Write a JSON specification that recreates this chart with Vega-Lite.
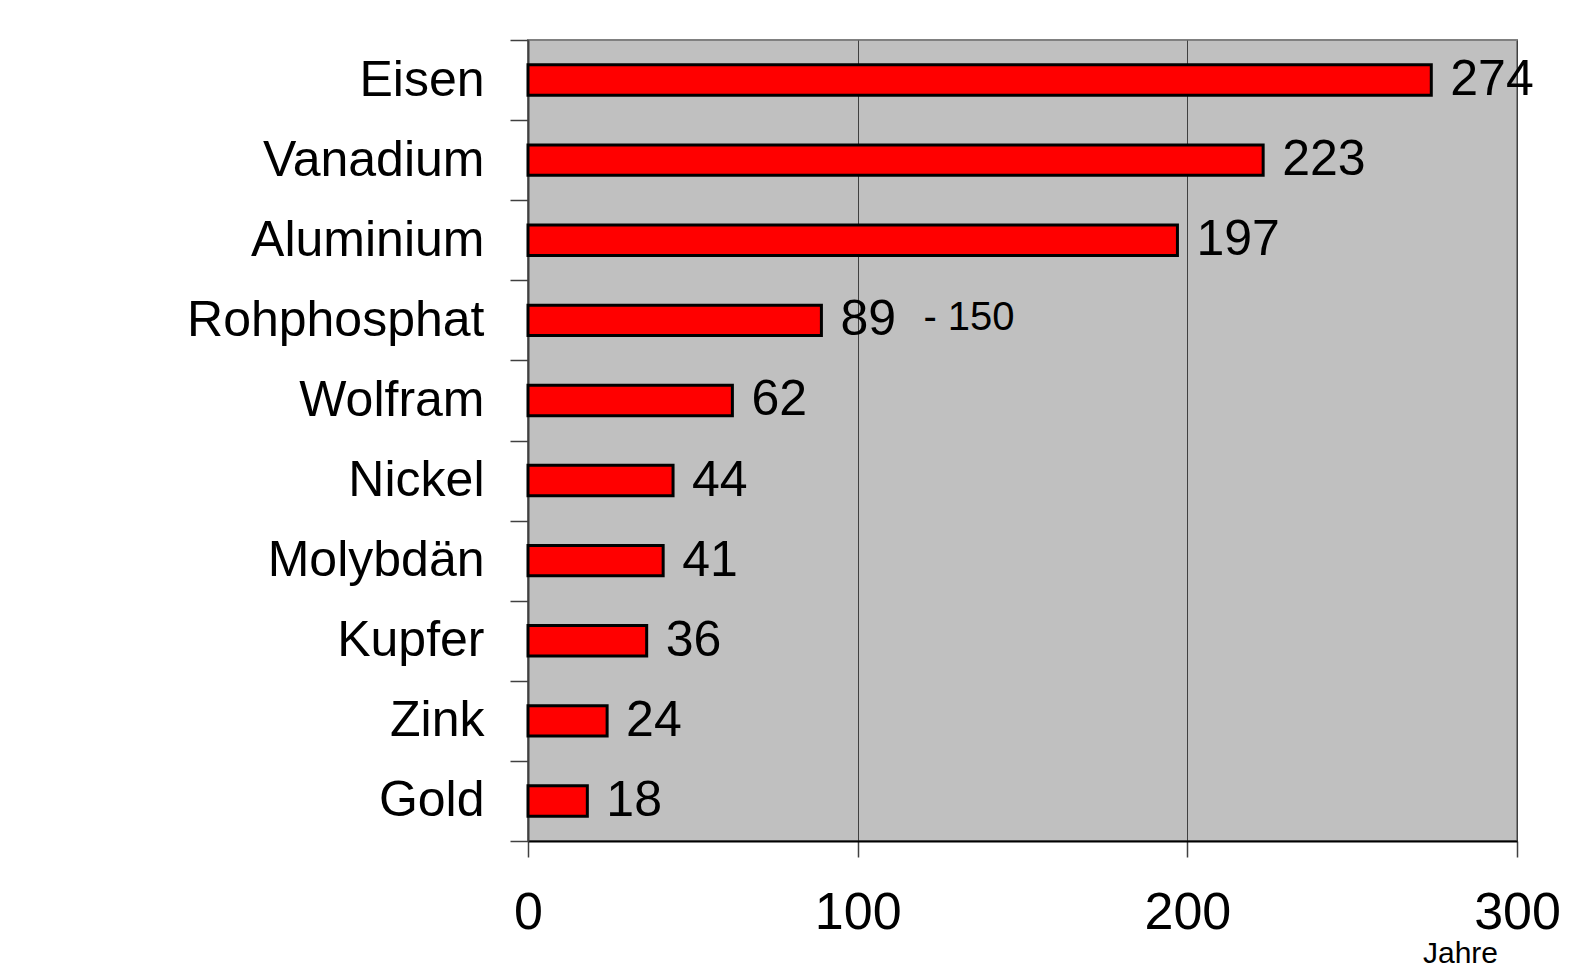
{
  "$schema": "https://vega.github.io/schema/vega-lite/v6.json",
  "autosize": {"type": "none"},
  "padding": {"left": 528, "top": 40, "right": 68, "bottom": 132},
  "width": 989,
  "height": 801,
  "background": "#ffffff",
  "config": {
    "font": "Liberation Sans",
    "view": {"fill": "#c0c0c0", "stroke": "#808080", "strokeWidth": 2}
  },
  "data": {
    "values": [
      {"rohstoff": "Eisen", "jahre": 274, "label": "274", "extra": ""},
      {"rohstoff": "Vanadium", "jahre": 223, "label": "223", "extra": ""},
      {"rohstoff": "Aluminium", "jahre": 197, "label": "197", "extra": ""},
      {"rohstoff": "Rohphosphat", "jahre": 89, "label": "89", "extra": "- 150"},
      {"rohstoff": "Wolfram", "jahre": 62, "label": "62", "extra": ""},
      {"rohstoff": "Nickel", "jahre": 44, "label": "44", "extra": ""},
      {"rohstoff": "Molybdän", "jahre": 41, "label": "41", "extra": ""},
      {"rohstoff": "Kupfer", "jahre": 36, "label": "36", "extra": ""},
      {"rohstoff": "Zink", "jahre": 24, "label": "24", "extra": ""},
      {"rohstoff": "Gold", "jahre": 18, "label": "18", "extra": ""}
    ]
  },
  "encoding": {
    "y": {
      "field": "rohstoff",
      "type": "nominal",
      "sort": null,
      "scale": {"paddingInner": 0, "paddingOuter": 0},
      "axis": {
        "title": null,
        "tickBand": "extent",
        "tickSize": 18,
        "tickColor": "#404040",
        "tickWidth": 1.5,
        "domainColor": "#404040",
        "domainWidth": 2,
        "labelFont": "Liberation Sans",
        "labelFontSize": 50,
        "labelColor": "#000000",
        "labelPadding": 26,
        "labelLimit": 600,
        "labelExpr": "datum.value == 'Gold' ? 'Gold\u2004' : datum.value"
      }
    },
    "x": {
      "field": "jahre",
      "type": "quantitative",
      "scale": {"domain": [0, 300], "nice": false},
      "axis": {
        "values": [0, 100, 200, 300],
        "title": "Jahre",
        "titleFontSize": 30,
        "titleFontWeight": "normal",
        "titleColor": "#000000",
        "titleX": 932,
        "titleY": 97,
        "titleAlign": "center",
        "titleBaseline": "top",
        "grid": true,
        "gridColor": "#404040",
        "gridWidth": 1,
        "tickSize": 16,
        "tickColor": "#404040",
        "tickWidth": 1.5,
        "domainColor": "#000000",
        "domainWidth": 2,
        "labelFontSize": 52,
        "labelColor": "#000000",
        "labelPadding": 30,
        "labelFlush": false
      }
    }
  },
  "layer": [
    {
      "mark": {"type": "bar", "height": {"band": 0.38}, "fill": "#ff0000", "stroke": "#000000", "strokeWidth": 3}
    },
    {
      "mark": {"type": "text", "align": "left", "baseline": "middle", "dx": 19, "fontSize": 50, "color": "#000000"},
      "encoding": {"text": {"field": "label"}}
    },
    {
      "mark": {"type": "text", "align": "left", "baseline": "middle", "dx": 102, "dy": -2, "fontSize": 40, "color": "#000000"},
      "encoding": {"text": {"field": "extra"}}
    }
  ]
}
